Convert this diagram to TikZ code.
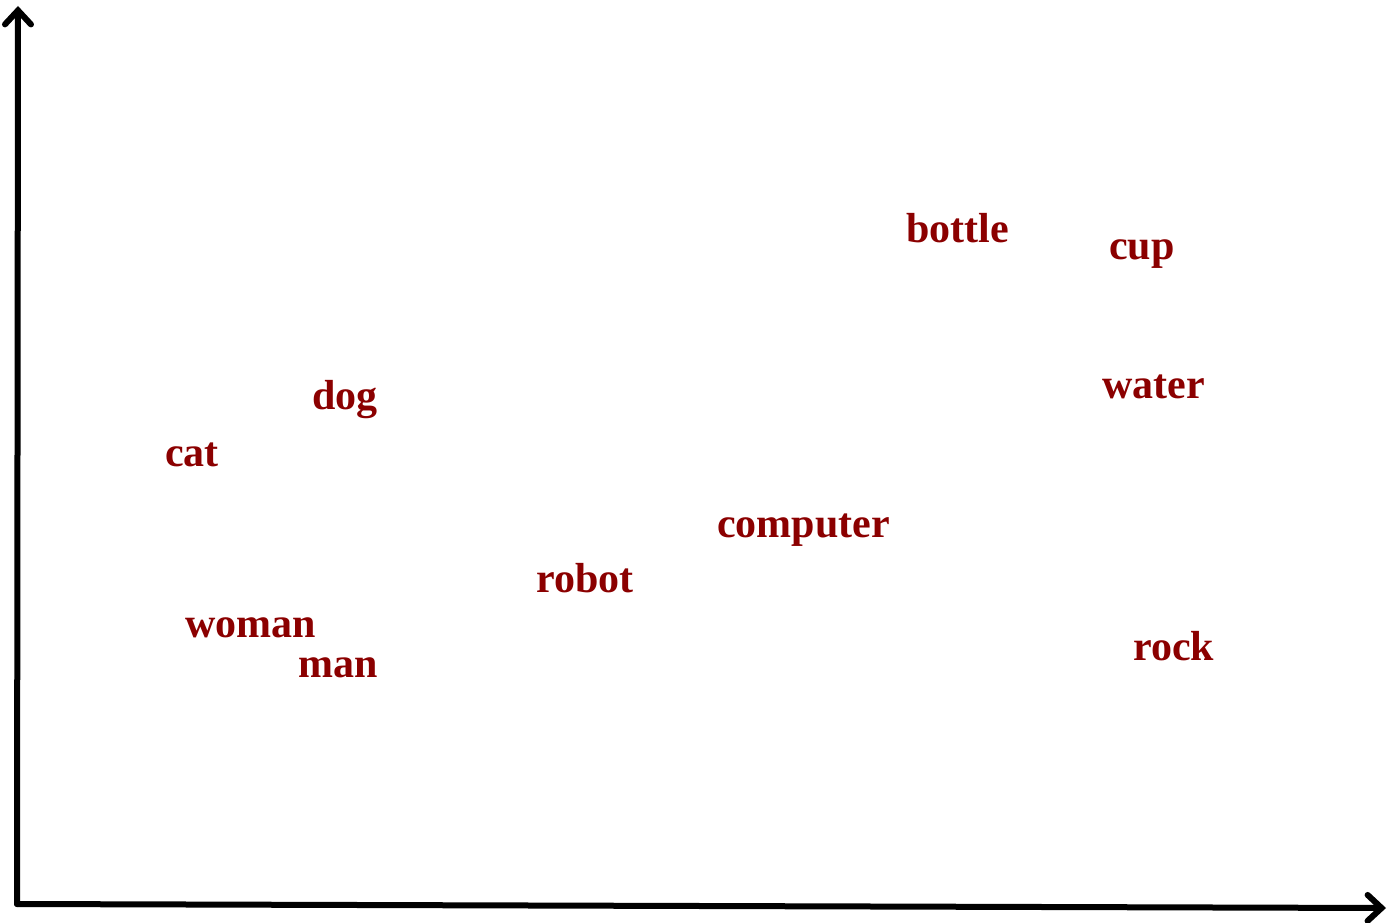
\documentclass[tikz,border=0pt]{standalone}
\usepackage{fontspec}
\setmainfont{Liberation Serif}
\usetikzlibrary{arrows.meta}
\definecolor{wordred}{HTML}{8B0000}
\begin{document}
\begin{tikzpicture}[x=1pt,y=1pt,
  word/.style={anchor=base west,inner sep=0pt,text=wordred,font=\fontsize{42}{42}\selectfont\bfseries},
  axis/.style={line width=6pt,line cap=round,-{Straight Barb[length=14pt,width=26pt,line cap=round]}}]
\useasboundingbox (0,0) rectangle (1391,922);
\coordinate (origin) at (17,18);
\coordinate (ytip) at (18,916);
\coordinate (xtip) at (1386,14);
\draw[axis] (origin) -- (ytip);
\draw[axis] (origin) -- (xtip);
\node[word] (bottle) at (906,679) {bottle};
\node[word] (cup) at (1109,662) {cup};
\node[word] (water) at (1102,523) {water};
\node[word] (dog) at (312,512) {dog};
\node[word] (cat) at (165,456) {cat};
\node[word] (computer) at (717,385) {computer};
\node[word] (robot) at (536,330) {robot};
\node[word] (woman) at (185,285) {woman};
\node[word] (man) at (298,245) {man};
\node[word] (rock) at (1133,262) {rock};
\end{tikzpicture}
\end{document}
